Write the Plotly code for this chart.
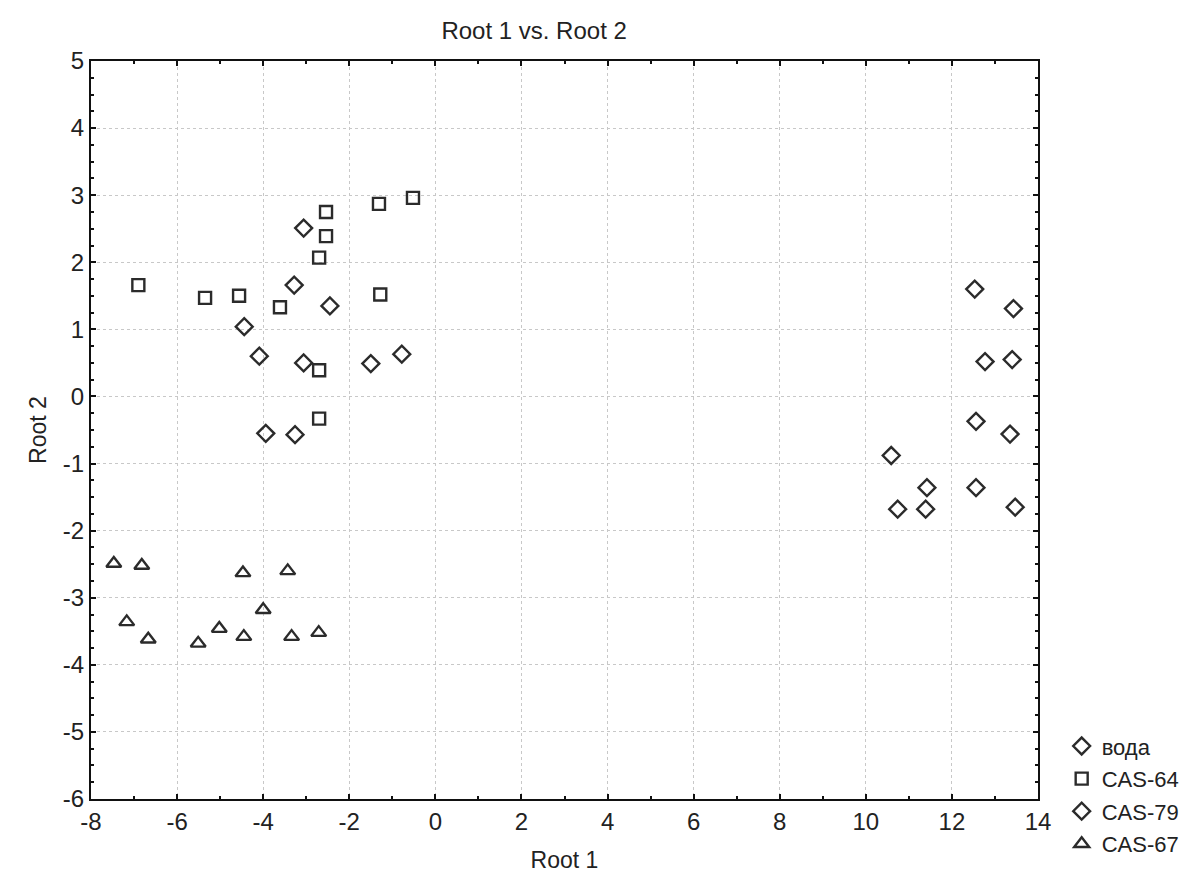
import plotly.graph_objects as go

# CAS-64 (squares)
cas64_x = [-6.90, -5.35, -4.56, -3.61, -2.70, -2.54, -2.54, -1.31, -0.52, -1.28, -2.70, -2.70]
cas64_y = [1.66, 1.47, 1.50, 1.33, 2.07, 2.39, 2.75, 2.87, 2.96, 1.52, 0.39, -0.33]

# CAS-79 (diamonds, left cluster)
cas79_x = [-3.06, -3.28, -2.45, -4.44, -4.09, -3.06, -1.50, -0.78, -3.94, -3.26]
cas79_y = [2.51, 1.66, 1.35, 1.04, 0.60, 0.50, 0.49, 0.63, -0.55, -0.57]

# вода (diamonds, right cluster)
voda_x = [12.53, 13.43, 12.77, 13.40, 12.56, 13.35, 10.59, 11.42, 10.74, 11.39, 12.56, 13.47]
voda_y = [1.60, 1.31, 0.52, 0.55, -0.37, -0.56, -0.88, -1.36, -1.68, -1.68, -1.36, -1.65]

# CAS-67 (triangles)
cas67_x = [-7.47, -6.82, -4.47, -3.43, -4.00, -7.17, -6.67, -5.51, -5.02, -4.45, -3.34, -2.71]
cas67_y = [-2.49, -2.52, -2.63, -2.60, -3.18, -3.36, -3.62, -3.68, -3.46, -3.58, -3.58, -3.52]

x_ticks = [-8, -6, -4, -2, 0, 2, 4, 6, 8, 10, 12, 14]
y_ticks = [5, 4, 3, 2, 1, 0, -1, -2, -3, -4, -5, -6]

FONT = "Arial, Liberation Sans, sans-serif"
MC = "#2b2b2b"

fig = go.Figure()
series = [
    ("вода", voda_x, voda_y, "diamond-open", 13),
    ("CAS-64", cas64_x, cas64_y, "square-open", 12),
    ("CAS-79", cas79_x, cas79_y, "diamond-open", 13),
    ("CAS-67", cas67_x, cas67_y, "triangle-up-open", 13),
]
for i, (name, xs, ys, sym, sz) in enumerate(series):
    fig.add_trace(go.Scatter(
        x=xs, y=ys, mode="markers", name=name, legendgroup=f"g{i}",
        marker=dict(symbol=sym, size=sz, color=MC, line=dict(width=2.4, color=MC)),
    ))

axis_common = dict(
    showline=True, linecolor="#111", linewidth=2, mirror="allticks",
    ticks="inside", ticklen=5, tickwidth=2, tickcolor="#111",
    showgrid=True, gridcolor="#c8c8c8", griddash="dot", gridwidth=1,
    zeroline=False, tickfont=dict(family=FONT, size=24, color="#222"),
)

fig.update_layout(
    width=1193, height=885,
    margin=dict(l=83, r=163, t=53, b=94),
    paper_bgcolor="white", plot_bgcolor="white",
    title=dict(text="Root 1 vs. Root 2", x=0.441, xanchor="center", y=0.975, yanchor="middle",
               font=dict(family=FONT, size=24, color="#222")),
    xaxis=dict(range=[-8, 14], tickvals=x_ticks, ticktext=[str(v) for v in x_ticks],
               title=dict(text="Root 1", font=dict(family=FONT, size=23, color="#222"), standoff=18),
               minor=dict(dtick=1, tick0=-8, ticks="inside", ticklen=3, tickcolor="#111", showgrid=False),
               **axis_common),
    yaxis=dict(range=[-6, 5], tickvals=y_ticks, ticktext=[str(v) for v in y_ticks],
               title=dict(text="Root 2", font=dict(family=FONT, size=23, color="#222"), standoff=10),
               minor=dict(dtick=0.25, tick0=0, ticks="inside", ticklen=3, tickcolor="#111", showgrid=False),
               **axis_common),
    legend=dict(x=1.025, y=0.100, xanchor="left", yanchor="top",
                font=dict(family=FONT, size=22, color="#222"),
                bgcolor="rgba(0,0,0,0)", tracegroupgap=1, itemwidth=30),
    showlegend=True,
)

fig.write_html("out.html")
